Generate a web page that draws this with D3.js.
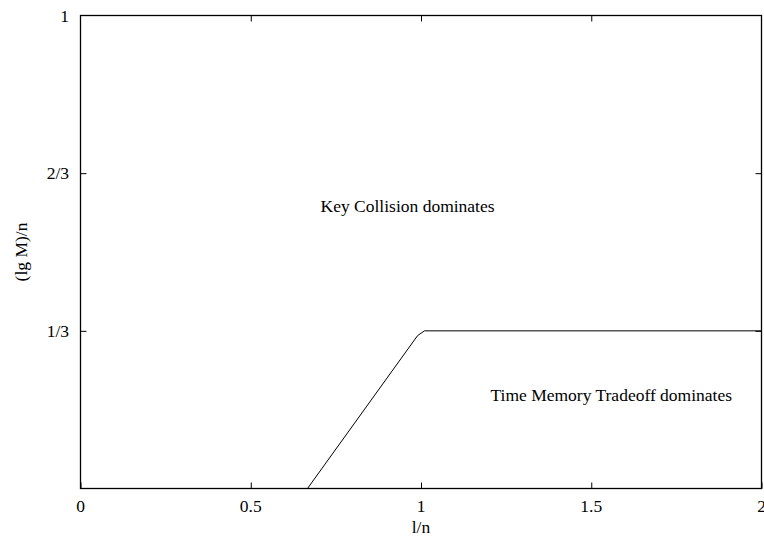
<!DOCTYPE html>
<html>
<head>
<meta charset="utf-8">
<script src="https://cdn.jsdelivr.net/npm/d3@7"></script>
<style>
  html, body { margin: 0; padding: 0; background: #fff; }
  svg { display: block; }
  text { font-family: "Liberation Serif", "Times New Roman", serif; font-size: 17.5px; fill: #000; }
</style>
</head>
<body>
<svg id="chart" width="764" height="538"></svg>
<script>
// ---- data ----
const xTicks = [0, 0.5, 1, 1.5, 2];
const xTickLabels = ["0", "0.5", "1", "1.5", "2"];
const yTicks = [0, 1/3, 2/3, 1];
const yTickLabels = ["", "1/3", "2/3", "1"];
const curveX = [0, 0.6667, 0.9899, 1.0101, 2];
const curveY = [0, 0, 0.3232, 0.3333, 0.3333];
const labelTexts = ["Key Collision dominates", "Time Memory Tradeoff dominates"];
const labelX = [0.705, 1.204];
const labelY = [0.584, 0.185];
const xTitle = "l/n";
const yTitle = "(lg M)/n";

// ---- layout ----
const svg = d3.select("#chart");
const pLeft = 80.5, pRight = 761.5, pTop = 15.5, pBottom = 488.5;
const x = d3.scaleLinear().domain([0, 2]).range([pLeft, pRight]);
const y = d3.scaleLinear().domain([0, 1]).range([pBottom, pTop]);
const tickLen = 6;

// curve
const pts = curveX.map((d, i) => [d, curveY[i]]);
svg.append("path")
  .datum(pts)
  .attr("d", d3.line().x(d => x(d[0])).y(d => y(d[1])))
  .attr("fill", "none")
  .attr("stroke", "#000")
  .attr("stroke-width", 1);

// axes with inward ticks, mirrored
const gB = svg.append("g").attr("transform", `translate(0,${pBottom})`)
  .call(d3.axisTop(x).tickValues(xTicks).tickSize(tickLen).tickFormat(""));
const gT = svg.append("g").attr("transform", `translate(0,${pTop})`)
  .call(d3.axisBottom(x).tickValues(xTicks.slice(1, -1)).tickSize(tickLen).tickFormat(""));
const gL = svg.append("g").attr("transform", `translate(${pLeft},0)`)
  .call(d3.axisRight(y).tickValues(yTicks.slice(1, -1)).tickSize(tickLen).tickFormat(""));
const gR = svg.append("g").attr("transform", `translate(${pRight},0)`)
  .call(d3.axisLeft(y).tickValues(yTicks.slice(1, -1)).tickSize(tickLen).tickFormat(""));
[gB, gT, gL, gR].forEach(g => {
  g.select(".domain").remove();
  g.selectAll("line").attr("stroke", "#000").attr("stroke-width", 1);
});

// frame
svg.append("rect")
  .attr("x", pLeft).attr("y", pTop)
  .attr("width", pRight - pLeft).attr("height", pBottom - pTop)
  .attr("fill", "none").attr("stroke", "#000").attr("stroke-width", 1.3);

// tick labels
svg.append("g").selectAll("text").data(xTicks).join("text")
  .attr("x", d => x(d)).attr("y", pBottom + 23.5)
  .attr("text-anchor", "middle")
  .text((d, i) => xTickLabels[i]);
svg.append("g").selectAll("text").data(yTicks).join("text")
  .attr("x", pLeft - 11.5).attr("y", d => y(d) + 6)
  .attr("text-anchor", "end")
  .text((d, i) => yTickLabels[i]);

// region labels
svg.append("g").selectAll("text").data(labelTexts).join("text")
  .attr("x", (d, i) => x(labelX[i]))
  .attr("y", (d, i) => y(labelY[i]))
  .attr("text-anchor", "start")
  .text(d => d);

// axis titles
svg.append("text")
  .attr("x", x(1)).attr("y", pBottom + 44)
  .attr("text-anchor", "middle")
  .text(xTitle);
svg.append("text")
  .attr("transform", `translate(27,${y(0.5)}) rotate(-90)`)
  .attr("text-anchor", "middle")
  .text(yTitle);
</script>
</body>
</html>
